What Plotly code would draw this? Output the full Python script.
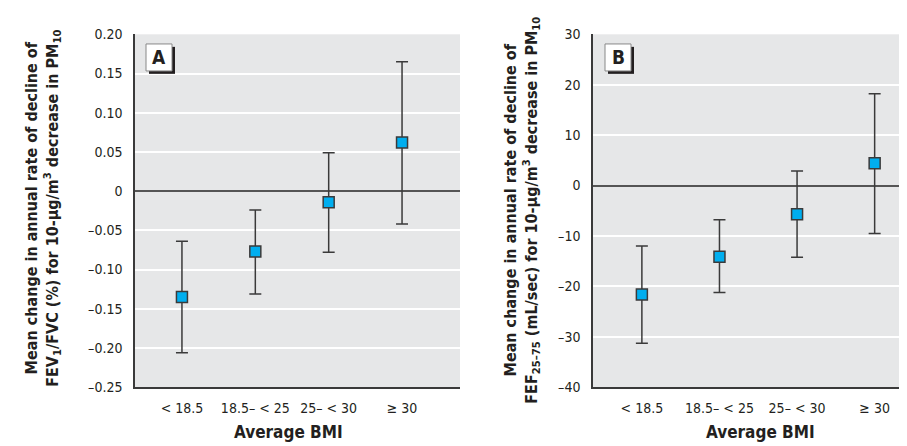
import plotly.graph_objects as go

categories = ["< 18.5", "18.5\u2013 < 25", "25\u2013 < 30", "\u2265 30"]

# Panel A: FEV1/FVC (%)
a_mean = [-0.135, -0.077, -0.014, 0.062]
a_upper = [-0.064, -0.024, 0.049, 0.165]
a_lower = [-0.206, -0.131, -0.078, -0.042]
a_ticks = [0.20, 0.15, 0.10, 0.05, 0, -0.05, -0.10, -0.15, -0.20, -0.25]
a_ticktext = ["0.20", "0.15", "0.10", "0.05", "0", "\u20130.05", "\u20130.10", "\u20130.15", "\u20130.20", "\u20130.25"]

# Panel B: FEF25-75 (mL/sec)
b_mean = [-21.6, -14.1, -5.7, 4.4]
b_upper = [-12.0, -6.8, 2.9, 18.2]
b_lower = [-31.3, -21.2, -14.2, -9.5]
b_ticks = [30, 20, 10, 0, -10, -20, -30, -40]
b_ticktext = ["30", "20", "10", "0", "\u201310", "\u201320", "\u201330", "\u201340"]

FONT = "DejaVu Sans Condensed, Liberation Sans Narrow, Roboto, sans-serif"
W, H = 907, 446
TXT = "#231f20"

fig = go.Figure()

def add_panel(mean, upper, lower, xa, ya):
    fig.add_trace(go.Scatter(
        x=categories, y=mean, mode="markers",
        marker=dict(symbol="square", size=11, color="#00aeef",
                    line=dict(color="#3a3a3a", width=1.5)),
        error_y=dict(type="data", symmetric=False,
                     array=[u - m for u, m in zip(upper, mean)],
                     arrayminus=[m - l for m, l in zip(mean, lower)],
                     color="#3a3a3a", thickness=1.5, width=6),
        xaxis=xa, yaxis=ya, showlegend=False, hoverinfo="skip"))

add_panel(a_mean, a_upper, a_lower, "x", "y")
add_panel(b_mean, b_upper, b_lower, "x2", "y2")

ydom = [1 - 385 / H, 1 - 19 / H]
axis_common = dict(showline=True, linecolor="#3a3a3a", linewidth=1.5, ticks="",
                   tickfont=dict(family=FONT, size=14, color=TXT))
fig.update_layout(
    width=W, height=H, margin=dict(l=0, r=0, t=0, b=0),
    paper_bgcolor="white", plot_bgcolor="#e6e7e8",
    font=dict(family=FONT, color=TXT),
    xaxis=dict(domain=[127 / W, 452 / W], range=[-0.64, 3.79], showgrid=False,
               anchor="y", ticklabelstandoff=7, **axis_common),
    yaxis=dict(domain=ydom, range=[-0.25, 0.20], tickvals=a_ticks, ticktext=a_ticktext,
               showgrid=True, gridcolor="white", gridwidth=1.5,
               zeroline=True, zerolinecolor="#555555", zerolinewidth=1.5,
               anchor="x", ticklabelstandoff=8, **axis_common),
    xaxis2=dict(domain=[585 / W, 1.0], range=[-0.63, 3.52], showgrid=False,
                anchor="y2", ticklabelstandoff=7, **axis_common),
    yaxis2=dict(domain=ydom, range=[-40, 30], tickvals=b_ticks, ticktext=b_ticktext,
                showgrid=True, gridcolor="white", gridwidth=1.5,
                zeroline=True, zerolinecolor="#555555", zerolinewidth=1.5,
                anchor="x2", ticklabelstandoff=8, **axis_common),
)

def px_x(v):
    return v / W

def px_y(v):
    return 1 - v / H

ann = []
for cx in (280, 752):
    ann.append(dict(text="<b>Average BMI</b>", x=px_x(cx), y=px_y(431), xref="paper", yref="paper",
                    showarrow=False, font=dict(family=FONT, size=17, color=TXT),
                    xanchor="center", yanchor="middle"))
ann.append(dict(text="<b>Mean change in annual rate of decline of<br>FEV<sub>1</sub>/FVC (%) for 10-\u00b5g/m<sup>3</sup> decrease in PM<sub>10</sub></b>",
                x=px_x(35), y=px_y(200), xref="paper", yref="paper", textangle=-90,
                showarrow=False, font=dict(family=FONT, size=16, color=TXT),
                xanchor="center", yanchor="middle"))
ann.append(dict(text="<b>Mean change in annual rate of decline of<br>FEF<sub>25\u201375</sub> (mL/sec) for 10-\u00b5g/m<sup>3</sup> decrease in PM<sub>10</sub></b>",
                x=px_x(514), y=px_y(202), xref="paper", yref="paper", textangle=-90,
                showarrow=False, font=dict(family=FONT, size=16, color=TXT),
                xanchor="center", yanchor="middle"))

shapes = []
for lbl, x0, y0 in [("A", 138, 29), ("B", 597, 29)]:
    w, h = 26, 28
    shapes.append(dict(type="rect", xref="paper", yref="paper",
                       x0=px_x(x0 + 3), x1=px_x(x0 + w + 3), y0=px_y(y0 + h + 3), y1=px_y(y0 + 3),
                       fillcolor="#231f20", line=dict(width=0)))
    shapes.append(dict(type="rect", xref="paper", yref="paper",
                       x0=px_x(x0), x1=px_x(x0 + w), y0=px_y(y0 + h), y1=px_y(y0),
                       fillcolor="white", line=dict(color="#888888", width=1)))
    ann.append(dict(text="<b>" + lbl + "</b>", x=px_x(x0 + w / 2), y=px_y(y0 + h / 2),
                    xref="paper", yref="paper", showarrow=False,
                    font=dict(family=FONT, size=19, color=TXT),
                    xanchor="center", yanchor="middle"))

fig.update_layout(annotations=ann, shapes=shapes)
fig.write_html("out.html")
